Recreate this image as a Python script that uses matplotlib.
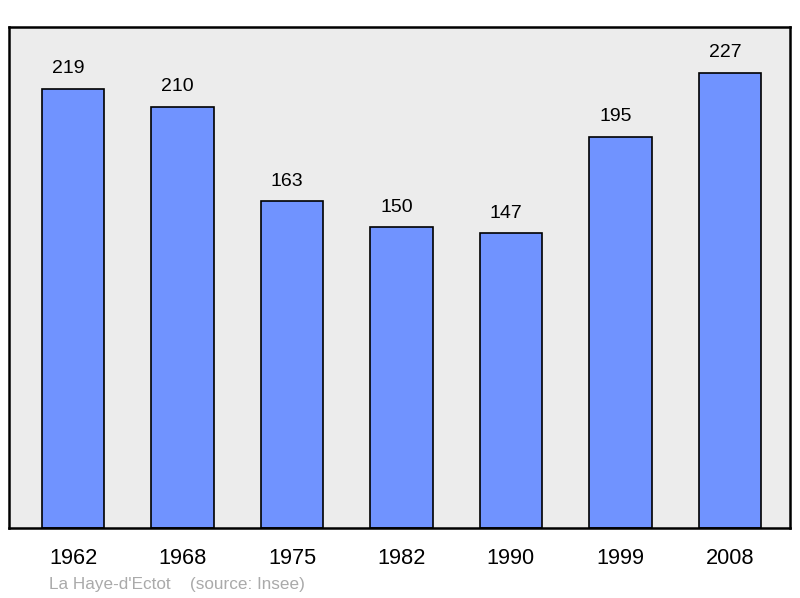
import matplotlib
matplotlib.use("Agg")
import matplotlib.pyplot as plt

years = ["1962", "1968", "1975", "1982", "1990", "1999", "2008"]
population = [219, 210, 163, 150, 147, 195, 227]
footer_place = "La Haye-d'Ectot"
footer_source = "(source: Insee)"

plt.rcParams['font.family'] = ['Liberation Sans', 'DejaVu Sans']

fig = plt.figure(figsize=(8.0, 5.98), dpi=100)
ax = fig.add_axes([9/800, 1 - 528/598, 781/800, 501/598])
ax.set_facecolor('#ececec')

x = list(range(len(years)))
ax.bar(x, population, width=0.57, color='#7093ff', edgecolor='black', linewidth=1.2, zorder=2)
for xi, v in zip(x, population):
    ax.annotate(str(v), (xi, v), xytext=(-3.4, 8.5), textcoords='offset points',
                ha='center', va='bottom', fontsize=14)

ax.set_xlim(-0.585, 6.55)
ax.set_ylim(0, 250)
ax.set_yticks([])
ax.set_xticks(x)
ax.set_xticklabels(years, fontsize=15.7)
ax.tick_params(axis='x', length=0, pad=14.5)
for s in ax.spines.values():
    s.set_linewidth(1.8)
    s.set_color('black')

fig.text(49/800, 1 - 584/598, footer_place, fontsize=12.3,
         color='#aaaaaa', ha='left', va='center')
fig.text(190/800, 1 - 584/598, footer_source, fontsize=12.3,
         color='#aaaaaa', ha='left', va='center')

fig.savefig('out.png', dpi=100)
